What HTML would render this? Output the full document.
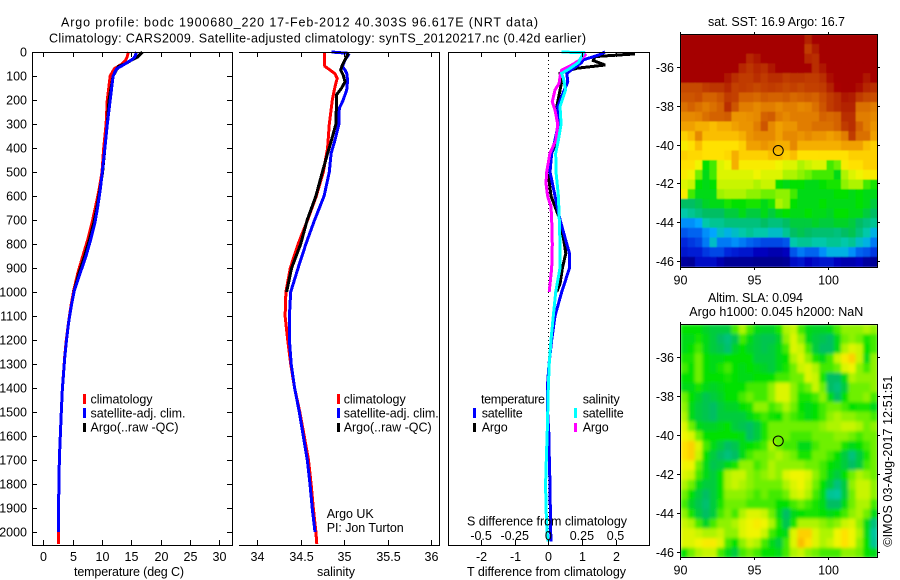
<!DOCTYPE html>
<html>
<head>
<meta charset="utf-8">
<title>Argo profile</title>
<style>
html,body{margin:0;padding:0;background:#fff;}
svg{display:block;}
text{font-family:"Liberation Sans",sans-serif;font-size:12.5px;fill:#000;}
.frame{stroke:#000;stroke-width:1;fill:none;shape-rendering:crispEdges;}
polyline{fill:none;stroke-width:3;shape-rendering:crispEdges;stroke-linejoin:miter;}
</style>
</head>
<body>
<svg id="chart" xmlns="http://www.w3.org/2000/svg" width="900" height="580" viewBox="0 0 900 580">
<defs>
<clipPath id="clip-sst"><rect x="680" y="34" width="198" height="233"/></clipPath>
<clipPath id="clip-sla"><rect x="680" y="324" width="198" height="233"/></clipPath>
<filter id="soft" x="-5%" y="-5%" width="110%" height="110%"><feGaussianBlur stdDeviation="1.6" edgeMode="duplicate"/></filter>
<filter id="softer" x="-5%" y="-5%" width="110%" height="110%"><feGaussianBlur stdDeviation="0.6" edgeMode="duplicate"/></filter>
</defs>
<rect width="900" height="580" fill="#fff"/>
<text x="61" y="26.5" textLength="477">Argo profile: bodc 1900680_220 17-Feb-2012 40.303S 96.617E (NRT data)</text>
<text x="49" y="42.5" textLength="537">Climatology: CARS2009. Satellite-adjusted climatology: synTS_20120217.nc (0.42d earlier)</text>

<text x="74" y="576" textLength="110">temperature (deg C)</text>
<text x="317" y="576" textLength="38">salinity</text>
<text x="467" y="576" textLength="159">T difference from climatology</text>

<g id="layer-lines"></g>
<g id="layer-axes"></g>

<text x="467" y="525.5" textLength="160">S difference from climatology</text>

<g>
<rect x="83" y="394" width="3" height="10" fill="#f00"/>
<text x="90.5" y="403.5" textLength="62">climatology</text>
<rect x="83" y="408" width="3" height="10" fill="#00f"/>
<text x="90.5" y="417.5" textLength="95">satellite-adj. clim.</text>
<rect x="83" y="423" width="3" height="9" fill="#000"/>
<text x="90.5" y="431.5" textLength="88">Argo(..raw -QC)</text>
</g>
<g>
<rect x="337" y="394" width="3" height="10" fill="#f00"/>
<text x="343.7" y="403.5" textLength="62">climatology</text>
<rect x="337" y="408" width="3" height="10" fill="#00f"/>
<text x="343.7" y="417.5" textLength="95">satellite-adj. clim.</text>
<rect x="337" y="423" width="3" height="9" fill="#000"/>
<text x="343.7" y="431.5" textLength="88">Argo(..raw -QC)</text>
<text x="326.7" y="518" textLength="47">Argo UK</text>
<text x="326.7" y="532" textLength="77">PI: Jon Turton</text>
</g>
<g>
<text x="481" y="403.5" textLength="64">temperature</text>
<text x="582.7" y="403.5" textLength="37">salinity</text>
<rect x="473" y="408" width="3" height="10" fill="#00f"/>
<text x="481.7" y="417.5" textLength="41">satellite</text>
<rect x="473" y="423" width="3" height="9" fill="#000"/>
<text x="481.7" y="431.5" textLength="26">Argo</text>
<rect x="574" y="408" width="3" height="10" fill="#0ff"/>
<text x="582.7" y="417.5" textLength="41">satellite</text>
<rect x="574" y="423" width="3" height="9" fill="#f0f"/>
<text x="582.7" y="431.5" textLength="26">Argo</text>
</g>

<g clip-path="url(#clip-sst)"><g id="layer-sst" filter="url(#softer)"></g></g>
<g clip-path="url(#clip-sla)"><g id="layer-sla" filter="url(#soft)"></g></g>
<g id="layer-maps"></g>

<text x="708" y="26" textLength="137">sat. SST: 16.9 Argo: 16.7</text>
<text x="708" y="302" textLength="95">Altim. SLA: 0.094</text>
<text x="689.3" y="316" textLength="174">Argo h1000: 0.045 h2000: NaN</text>
<text transform="translate(892,546.7) rotate(-90)" textLength="171">©IMOS 03-Aug-2017 12:51:51</text>
</svg>

<script>
/* ---------- depth and tick arrays ---------- */
const depthTicks = [0,100,200,300,400,500,600,700,800,900,1000,1100,1200,1300,1400,1500,1600,1700,1800,1900,2000];
const tempTicks = [0,5,10,15,20,25,30];
const salTicks = [34,34.5,35,35.5,36];
const tDiffTicks = [-2,-1,0,1,2];
const sDiffTicks = [-0.5,-0.25,0,0.25,0.5];
const lonTicks = [90,95,100];
const latTicks = [-36,-38,-40,-42,-44,-46];

/* ---------- temperature profiles ---------- */
const tempClimDepth = [0,20,35,50,70,100,200,300,400,500,575,640,712,780,853,920,992,1060,1131,1200,1270,1408,1500,1600,1700,1800,1900,2050];
const tempClimValue = [14.5,14.3,14,13.4,12.1,11.4,10.9,10.7,10.3,10,9.5,8.95,8.3,7.6,6.7,5.9,5.2,4.7,4.27,3.92,3.64,3.24,3.07,2.9,2.73,2.7,2.56,2.55];
const tempSatDepth = [0,20,30,50,70,100,200,300,400,500,575,640,712,780,853,920,992,1060,1131,1200,1270,1408,1500,1600,1700,1800,1900,2000];
const tempSatValue = [15.9,15.6,15.2,13.9,12.5,11.9,11.4,10.9,10.5,10.06,9.7,9.3,8.8,8.1,7.25,6.3,5.3,4.75,4.3,3.95,3.66,3.24,3.07,2.9,2.73,2.7,2.56,2.55];
const tempArgoDepth = [0,20,30,50,60,100,200,300,400,500,575,640,712,780,853,920,1000];
const tempArgoValue = [16.9,16.1,15.3,13.9,12.8,11.9,11.2,10.9,10.5,10.1,9.65,9.2,8.6,7.9,7,6.1,5.2];

/* ---------- salinity profiles ---------- */
const salClimDepth = [0,50,60,75,90,110,130,158,200,300,400,500,600,700,800,900,1000,1100,1200,1300,1400,1500,1600,1700,1800,1900,2000,2050];
const salClimValue = [34.772,34.772,34.78,34.837,34.894,34.92,34.906,34.887,34.864,34.83,34.81,34.76,34.68,34.58,34.47,34.38,34.33,34.32,34.35,34.385,34.43,34.49,34.54,34.59,34.62,34.645,34.675,34.685];
const salSatDepth = [0,5,12,33,61,75,89,117,158,200,235,300,367,422,500,600,700,800,900,1000,1100,1200,1300,1400,1500,1600,1700,1800,1900,2000];
const salSatValue = [34.856,35.03,35.05,35.01,34.98,35.01,35.03,35.04,35.03,34.99,34.945,34.94,34.895,34.85,34.83,34.77,34.66,34.56,34.47,34.385,34.37,34.37,34.39,34.43,34.484,34.53,34.576,34.607,34.633,34.665];
const salArgoDepth = [5,33,54,75,96,124,151,179,240,300,367,422,500,600,700,800,900,1000];
const salArgoValue = [35.05,35.01,34.98,34.96,34.99,35.01,34.97,34.91,34.91,34.905,34.855,34.81,34.75,34.675,34.575,34.5,34.395,34.338];

/* ---------- difference profiles ---------- */
const tDiffArgoDepth = [8,19,36,54,68,89,124,158,228,300,367,422,500,533,600,700,800,839,900,964,1000];
const tDiffArgoValue = [2.58,1.39,1.34,1.69,0.84,0.35,0.4,0.35,0.25,0.32,0.25,0.1,0.05,0.02,0.08,0.35,0.48,0.52,0.42,0.35,0.25];
const tDiffSatDepth = [0,12,33,44,68,89,124,158,228,300,367,422,500,533,600,700,800,839,900,1000,1100,1200,1300,1400,1500,1600,1700,1800,1900,2000,2040];
const tDiffSatValue = [1.69,1.51,1.04,0.99,0.75,0.55,0.58,0.48,0.28,0.3,0.2,0.1,0.05,0.1,0.2,0.35,0.55,0.63,0.63,0.4,0.2,0.1,0.02,-0.03,-0.02,0.02,0.03,0.05,0.06,0.07,0.08];
const sDiffArgoDepth = [8,33,54,75,103,131,158,207,242,300,367,422,500,547,600,644,700,800,900,1000];
const sDiffArgoValue = [0.281,0.236,0.174,0.1,0.087,0.08,0.05,0.03,0.05,0.07,0.057,0.012,-0.012,-0.017,-0.005,0.02,0.025,0.03,0.025,0.007];
const sDiffSatDepth = [0,3,17,44,68,89,110,158,228,300,367,422,500,600,700,800,900,1000,1100,1200,1300,1400,1560,1700,1800,1900,2000,2040];
const sDiffSatValue = [0.1,0.261,0.249,0.224,0.162,0.1,0.112,0.129,0.087,0.095,0.075,0.055,0.057,0.075,0.082,0.087,0.087,0.055,0.037,0.02,0.007,0,-0.007,-0.015,-0.02,-0.017,-0.01,0];

/* ---------- map grids: colour-scale index 0-99, rows north to south ---------- */
const sstCells = [
[99,99,99,99,99,99,99,99,99,99,99,99,99,99,99,99,99,94,99,99,99,99,99,99,99,99,99],
[99,99,99,99,99,99,99,99,99,99,99,99,99,99,99,99,99,90,95,99,99,99,99,99,99,99,99],
[99,99,99,99,99,99,99,99,99,93,96,99,99,99,99,99,99,93,92,99,99,99,99,99,99,99,99],
[99,99,99,99,99,99,99,99,93,91,93,92,96,99,99,99,99,99,92,96,99,99,99,99,99,99,99],
[99,99,99,99,99,99,96,92,90,90,92,90,92,92,90,91,91,90,90,92,97,99,99,99,99,96,99],
[88,88,88,90,91,91,93,89,90,89,88,89,90,89,88,89,88,89,89,90,94,98,99,99,97,93,92],
[86,86,87,84,84,86,90,89,84,84,83,85,84,84,85,83,84,85,84,87,90,92,96,95,90,88,87],
[82,84,82,80,82,84,92,86,80,80,78,80,80,78,80,80,78,79,82,86,90,92,94,94,82,82,80],
[78,78,79,82,84,84,85,76,76,77,78,84,85,80,78,80,80,80,80,84,83,84,92,92,80,80,78],
[74,74,72,72,70,72,72,74,76,76,80,86,78,74,76,76,80,80,82,82,82,84,90,92,84,80,76],
[68,70,78,70,70,70,70,70,72,76,78,78,78,74,78,78,76,78,76,76,74,76,80,90,82,82,74],
[64,66,70,66,66,66,66,66,68,74,74,76,74,72,72,78,72,72,72,72,72,72,74,74,74,70,68],
[68,67,67,66,66,66,67,72,68,68,68,68,70,70,68,70,66,66,66,66,66,66,66,68,68,68,68],
[66,66,62,47,50,60,62,72,64,64,64,64,64,62,60,60,56,58,60,60,50,52,64,66,66,68,68],
[64,62,52,46,50,60,60,60,60,60,62,60,60,60,56,56,54,52,50,50,50,46,56,60,62,64,64],
[60,58,47,46,47,58,58,58,58,58,56,58,58,47,46,47,47,46,46,47,48,48,54,56,56,50,48],
[64,50,46,46,46,55,56,56,56,54,54,52,52,54,54,50,46,46,46,46,46,47,47,46,47,46,46],
[42,42,43,45,46,46,48,47,47,48,48,46,48,56,54,47,46,46,46,47,46,46,46,46,47,46,44],
[36,38,40,42,42,42,44,44,46,44,44,46,44,46,47,46,46,47,46,46,45,47,47,46,46,44,42],
[28,28,30,36,38,38,40,40,40,40,40,42,40,40,42,44,44,44,45,44,44,45,45,44,42,40,38],
[22,24,24,28,30,34,32,34,36,38,36,36,34,34,38,42,43,42,41,41,41,40,42,43,40,36,32],
[16,18,20,26,34,26,26,28,26,24,22,20,20,20,22,36,38,38,36,36,38,38,36,38,34,32,26],
[12,14,14,18,20,20,16,14,12,12,8,8,6,6,8,22,26,24,24,28,32,32,32,28,24,22,18],
[4,3,10,10,10,6,3,3,3,3,2,2,2,2,3,10,12,8,10,12,12,8,6,6,8,4,3]
];
const slaCells = [
[47,47,47,45,44,44,44,50,56,50,46,45,45,48,56,58,50,46,45,45,46,50,54,54,54,56,54],
[46,46,48,46,44,42,40,43,50,46,44,43,43,45,54,60,54,46,44,43,42,46,52,54,52,48,50],
[46,47,50,46,44,43,41,45,47,45,44,43,44,46,50,60,58,50,44,42,42,46,56,60,58,47,50],
[48,48,52,47,46,46,47,47,47,47,44,44,44,46,47,56,60,54,48,46,50,58,64,68,58,46,54],
[50,47,52,47,46,48,50,47,46,47,46,45,44,46,48,52,58,60,56,50,50,52,60,62,54,50,54],
[47,47,52,47,47,47,48,47,46,46,47,47,47,50,50,52,52,60,58,48,42,42,46,56,54,54,54],
[46,46,48,46,45,46,47,47,47,50,50,50,54,60,60,54,50,52,58,52,42,40,44,52,52,52,54],
[52,47,45,43,44,45,47,47,50,52,50,50,54,60,60,54,48,48,50,54,46,42,47,52,52,54,50],
[54,46,44,43,42,44,45,45,47,48,54,54,50,52,56,52,47,46,47,50,52,52,50,47,48,48,46],
[56,46,44,43,42,44,44,44,44,46,48,50,48,47,52,50,48,46,47,50,54,56,54,54,52,52,50],
[60,52,46,45,45,46,47,44,43,42,44,48,52,52,52,52,52,52,52,54,56,56,58,58,56,52,54],
[62,60,52,47,47,47,47,47,46,42,44,48,52,52,52,50,50,50,52,52,52,54,54,52,50,52,52],
[66,68,60,50,46,44,42,43,46,47,48,50,56,52,50,50,46,46,50,52,52,52,48,46,47,50,52],
[66,68,58,47,44,42,40,42,46,50,52,52,54,56,54,52,48,48,52,52,50,47,44,40,44,48,52],
[62,62,52,46,43,44,46,48,54,54,50,52,56,54,54,54,54,52,52,50,47,46,44,42,44,50,52],
[60,58,50,46,44,47,56,58,58,54,52,54,56,54,60,62,62,60,54,50,46,44,47,52,56,54,52],
[56,52,46,44,44,47,56,58,56,54,52,52,52,52,56,60,62,58,52,47,44,40,44,54,58,58,54],
[52,47,44,42,44,47,54,54,54,52,50,52,50,50,52,58,60,56,50,46,38,37,44,52,58,58,54],
[50,45,43,41,44,48,52,52,52,50,50,50,50,47,47,50,52,50,48,46,42,42,46,52,56,56,50],
[54,48,44,42,44,50,53,50,56,60,60,58,52,46,42,46,47,48,48,47,46,47,50,54,56,52,46],
[58,56,50,45,50,54,54,56,60,62,64,62,56,48,43,48,56,56,56,54,52,54,58,60,54,46,40],
[60,60,58,56,56,58,54,54,60,62,62,58,50,47,46,60,68,68,60,56,56,62,66,62,56,46,37],
[60,60,62,64,64,60,50,47,54,58,56,50,46,44,50,60,70,66,60,56,58,62,66,62,54,47,38],
[47,52,56,58,58,50,46,44,50,52,50,47,47,46,50,56,58,54,52,50,50,50,54,54,52,47,46]
];
const floatPosition = [96.617,-40.303];

/* ---------- axis functions ---------- */
const NS = 'http://www.w3.org/2000/svg';
function yDepth(d){return 52 + 0.24*d;}
function xTemp(v){return 43.3 + 5.867*v;}
function xSal(v){return 257.3 + 86.8*(v-34);}
function xTDiff(v){return 548.3 + 33.6*v;}
function xSDiff(v){return 548.3 + 134.4*v;}
function xLon(v){return 680.3 + 14.8*(v-90);}
function ySst(v){return 67.3 + 19.34*(-36-v);}
function ySla(v){return 357.3 + 19.44*(-36-v);}

function mk(parent,tag,attrs){
  const el = document.createElementNS(NS,tag);
  for(const k in attrs){el.setAttribute(k,attrs[k]);}
  parent.appendChild(el);
  return el;
}
function tick(parent,x1,y1,x2,y2,name){
  const el = mk(parent,'line',{x1:x1,y1:y1,x2:x2,y2:y2,stroke:'#000','stroke-width':1,'shape-rendering':'crispEdges'});
  
  
}
function label(parent,x,y,str,anchor,name){
  const el = mk(parent,'text',{x:x,y:y,'text-anchor':anchor});
  el.textContent = str;
  
  
}
function line(parent,depths,values,xf,color,name){
  const pts = depths.map(function(d,i){return xf(values[i]).toFixed(1)+','+yDepth(d).toFixed(1);}).join(' ');
  const el = mk(parent,'polyline',{points:pts,stroke:color});
  
  
}
function frame(parent,x1,y1,x2,y2,name){
  const el = mk(parent,'rect',{x:x1,y:y1,width:x2-x1,height:y2-y1,'class':'frame'});
  
  
}

/* ---------- profile lines ---------- */
const lines = document.getElementById('layer-lines');
const zeroLine = mk(lines,'line',{x1:xTDiff(0),y1:52,x2:xTDiff(0),y2:545,stroke:'#000','stroke-width':1,'stroke-dasharray':'1 3','shape-rendering':'crispEdges'});



line(lines,tempClimDepth,tempClimValue,xTemp,'#f00','temperature-climatology-line');
line(lines,tempArgoDepth,tempArgoValue,xTemp,'#000','temperature-argo-line');
line(lines,tempSatDepth,tempSatValue,xTemp,'#00f','temperature-satellite-line');
line(lines,salClimDepth,salClimValue,xSal,'#f00','salinity-climatology-line');
line(lines,salSatDepth,salSatValue,xSal,'#00f','salinity-satellite-line');
line(lines,salArgoDepth,salArgoValue,xSal,'#000','salinity-argo-line');
line(lines,tDiffArgoDepth,tDiffArgoValue,xTDiff,'#000','t-difference-argo-line');
line(lines,tDiffSatDepth,tDiffSatValue,xTDiff,'#00f','t-difference-satellite-line');
line(lines,sDiffArgoDepth,sDiffArgoValue,xSDiff,'#f0f','s-difference-argo-line');
line(lines,sDiffSatDepth,sDiffSatValue,xSDiff,'#0ff','s-difference-satellite-line');

/* ---------- profile axes ---------- */
const axes = document.getElementById('layer-axes');
frame(axes,32.5,52.5,232.5,545.5,'temperature-panel-frame');
tick(axes,239,52.5,440,52.5,'salinity-panel-top-axis');
tick(axes,239,545.5,440,545.5,'salinity-panel-bottom-axis');
tick(axes,439.5,52,439.5,546,'salinity-panel-right-axis');
frame(axes,448.5,52.5,649.5,545.5,'difference-panel-frame');

depthTicks.forEach(function(d){
  const y = Math.round(yDepth(d))+0.5;
  tick(axes,32,y,37,y,'depth-tick-left');
  tick(axes,227,y,232,y,'depth-tick-right');
  label(axes,27,y+4,String(d),'end','depth-tick-label');
});
tempTicks.forEach(function(v){
  const x = Math.round(xTemp(v))+0.5;
  tick(axes,x,52,x,57,'temperature-tick-top');
  tick(axes,x,540,x,545,'temperature-tick-bottom');
  label(axes,x,561,String(v),'middle','temperature-tick-label');
});
salTicks.forEach(function(v){
  const x = Math.round(xSal(v))+0.5;
  tick(axes,x,52,x,57,'salinity-tick-top');
  tick(axes,x,540,x,545,'salinity-tick-bottom');
  label(axes,x,561,String(v),'middle','salinity-tick-label');
});
tDiffTicks.forEach(function(v){
  const x = Math.round(xTDiff(v))+0.5;
  tick(axes,x,52,x,57,'t-difference-tick-top');
  tick(axes,x,540,x,545,'t-difference-tick-bottom');
  label(axes,x,561,String(v),'middle','t-difference-tick-label');
});
sDiffTicks.forEach(function(v){
  label(axes,xSDiff(v),540,String(v),'middle','s-difference-tick-label');
});

/* ---------- maps ---------- */
const colorStops = [
[0,0,0,128],[8,0,0,190],[16,0,40,220],[24,0,100,240],[30,0,165,255],[36,0,200,170],[42,0,190,100],[47,0,225,0],
[52,110,240,0],[57,190,245,0],[62,240,245,0],[66,255,225,0],[70,250,190,0],[74,240,160,0],[80,225,125,0],[86,205,85,0],[92,185,45,0],[99,165,0,0]
];
function mapColor(v){
  for(let i=1;i<colorStops.length;i++){
    if(v<=colorStops[i][0]){
      const a=colorStops[i-1], b=colorStops[i], t=(v-a[0])/(b[0]-a[0]);
      return 'rgb('+Math.round(a[1]+t*(b[1]-a[1]))+','+Math.round(a[2]+t*(b[2]-a[2]))+','+Math.round(a[3]+t*(b[3]-a[3]))+')';
    }
  }
  return 'rgb(165,0,0)';
}
function drawMap(layerId,cells,yf,name){
  const layer = document.getElementById(layerId);
  const nRows = cells.length, nCols = cells[0].length;
  const lonStep = 13.33/nCols, latStep = 12/nRows;
  cells.forEach(function(row,r){
    row.forEach(function(v,c){
      const x0 = xLon(90+c*lonStep), x1 = xLon(90+(c+1)*lonStep);
      const y0 = yf(-34.3-r*latStep), y1 = yf(-34.3-(r+1)*latStep);
      const cell = mk(layer,'rect',{x:x0.toFixed(2),y:y0.toFixed(2),width:(x1-x0+0.6).toFixed(2),height:(y1-y0+0.6).toFixed(2),fill:mapColor(v)});
      
      
    });
  });
}
drawMap('layer-sst',sstCells,ySst,'sst-cell');
drawMap('layer-sla',slaCells,ySla,'sla-cell');

const mapsLayer = document.getElementById('layer-maps');
function mapAxes(top,bottom,yf,labelY,prefix){
  frame(mapsLayer,680.5,top+0.5,877.5,bottom+0.5,prefix+'-map-frame');
  lonTicks.forEach(function(v){
    const x = Math.round(xLon(v))+0.5;
    tick(mapsLayer,x,top-2,x,top,prefix+'-lon-tick-top');
    tick(mapsLayer,x,bottom,x,bottom+3,prefix+'-lon-tick-bottom');
    label(mapsLayer,x,labelY,String(v),'middle',prefix+'-lon-label');
  });
  latTicks.forEach(function(v){
    const y = Math.round(yf(v))+0.5;
    tick(mapsLayer,677,y,680,y,prefix+'-lat-tick-left');
    tick(mapsLayer,878,y,880,y,prefix+'-lat-tick-right');
    label(mapsLayer,674,y+4.5,String(v),'end',prefix+'-lat-label');
  });
  const ring = mk(mapsLayer,'circle',{cx:xLon(floatPosition[0]),cy:yf(floatPosition[1]),r:5,fill:'none',stroke:'#000','stroke-width':1});
  
  
}
mapAxes(34,267,ySst,284.5,'sst');
mapAxes(324,557,ySla,574.5,'sla');
</script>
</body>
</html>
